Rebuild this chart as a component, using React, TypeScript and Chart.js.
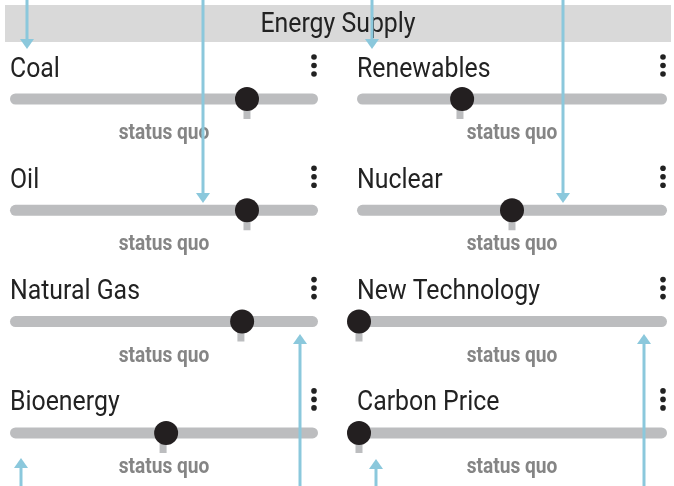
import React, { useEffect, useRef } from "react";
import { Chart, registerables } from "chart.js";

Chart.register(...registerables);

// ---- data ----
const headerTitle = "Energy Supply";
const sliderNames = ["Coal", "Oil", "Natural Gas", "Bioenergy", "Renewables", "Nuclear", "New Technology", "Carbon Price"];
const sliderColumns = [0, 0, 0, 0, 1, 1, 1, 1];
const sliderRows = [0, 1, 2, 3, 0, 1, 2, 3];
const sliderValues = [0.773, 0.773, 0.757, 0.507, 0.337, 0.5, 0, 0];
const statusQuoValues = [0.773, 0.773, 0.753, 0.497, 0.33, 0.5, 0, 0];
const statusQuoLabel = "status quo";
// annotation arrows (in page units): x, tail y, tip y
const arrowX = [27, 203, 372, 563, 21, 300, 376, 644];
const arrowTailY = [0, 0, 0, 0, 486, 486, 486, 486];
const arrowTipY = [49, 203, 49, 203, 458, 334, 459, 334];

// ---- layout ----
const W = 674;
const H = 486;
const COL_X0 = [10, 357];
const COL_X1 = [318, 667];
const ROW_Y0 = 99;
const ROW_STEP = 111.3;
const TRACK_W = 11;
const KNOB_R = 12;
const ARROW_HEAD_W = 14;
const ARROW_HEAD_H = 10;

const TRACK_COLOR = "#bcbdbf";
const KNOB_COLOR = "#231f20";
const TEXT_COLOR = "#222222";
const SQ_COLOR = "#858585";
const HEADER_BG = "#d9d9d9";
const ARROW_COLOR = "#8bc8dc";

const rowY = (r: number) => ROW_Y0 + r * ROW_STEP;
const valueX = (c: number, v: number) => COL_X0[c] + 2 + v * (COL_X1[c] - COL_X0[c] - 4);

function condensedText(ctx: CanvasRenderingContext2D, text: string, x: number, y: number, squeeze: number) {
  ctx.save();
  ctx.translate(x, y);
  ctx.scale(squeeze, 1);
  ctx.fillText(text, 0, 0);
  ctx.restore();
}

export default function App() {
  const ref = useRef<HTMLCanvasElement | null>(null);

  useEffect(() => {
    const prev = document.body.style.margin;
    document.body.style.margin = "0";
    if (!ref.current) return;

    const datasets: any[] = [];

    // tracks
    sliderNames.forEach((_, i) => {
      const c = sliderColumns[i];
      const y = rowY(sliderRows[i]);
      datasets.push({
        type: "line",
        data: [
          { x: COL_X0[c] + TRACK_W / 2, y },
          { x: COL_X1[c] - TRACK_W / 2, y },
        ],
        borderColor: TRACK_COLOR,
        borderWidth: TRACK_W,
        borderCapStyle: "round",
        pointRadius: 0,
        order: 4,
        clip: false,
      });
    });

    // status quo ticks
    sliderNames.forEach((_, i) => {
      const c = sliderColumns[i];
      const y = rowY(sliderRows[i]);
      const x = valueX(c, statusQuoValues[i]);
      datasets.push({
        type: "line",
        data: [
          { x, y },
          { x, y: y + 20 },
        ],
        borderColor: TRACK_COLOR,
        borderWidth: 7,
        borderCapStyle: "butt",
        pointRadius: 0,
        order: 3,
        clip: false,
      });
    });

    // knobs
    datasets.push({
      type: "scatter",
      data: sliderNames.map((_, i) => ({ x: valueX(sliderColumns[i], sliderValues[i]), y: rowY(sliderRows[i]) })),
      backgroundColor: KNOB_COLOR,
      borderWidth: 0,
      pointRadius: KNOB_R,
      pointHoverRadius: KNOB_R,
      order: 2,
      clip: false,
    });

    // arrow shafts
    arrowX.forEach((x, i) => {
      const dir = arrowTipY[i] > arrowTailY[i] ? 1 : -1;
      datasets.push({
        type: "line",
        data: [
          { x, y: arrowTailY[i] },
          { x, y: arrowTipY[i] - dir * (ARROW_HEAD_H - 1) },
        ],
        borderColor: ARROW_COLOR,
        borderWidth: 3,
        borderCapStyle: "butt",
        pointRadius: 0,
        order: 1,
        clip: false,
      });
    });

    const textPlugin = {
      id: "sliderText",
      beforeDatasetsDraw(chart: any) {
        const ctx = chart.ctx as CanvasRenderingContext2D;
        const sx = chart.scales.x;
        const sy = chart.scales.y;
        ctx.save();
        // header
        ctx.fillStyle = HEADER_BG;
        ctx.fillRect(sx.getPixelForValue(5), sy.getPixelForValue(5), sx.getPixelForValue(671) - sx.getPixelForValue(5), sy.getPixelForValue(42) - sy.getPixelForValue(5));
        ctx.fillStyle = TEXT_COLOR;
        ctx.font = "27px Roboto";
        ctx.textAlign = "center";
        ctx.textBaseline = "alphabetic";
        condensedText(ctx, headerTitle, sx.getPixelForValue(338), sy.getPixelForValue(32), 0.92);

        sliderNames.forEach((name, i) => {
          const c = sliderColumns[i];
          const y = rowY(sliderRows[i]);
          // title
          ctx.fillStyle = TEXT_COLOR;
          ctx.font = "27px Roboto";
          ctx.textAlign = "left";
          condensedText(ctx, name, sx.getPixelForValue(COL_X0[c]), sy.getPixelForValue(y - 22.5), 0.92);
          // kebab
          const kx = sx.getPixelForValue(COL_X1[c] - 4);
          [-42, -33.5, -25].forEach((dy) => {
            ctx.beginPath();
            ctx.arc(kx, sy.getPixelForValue(y + dy), 2.8, 0, Math.PI * 2);
            ctx.fill();
          });
          // status quo label
          ctx.fillStyle = SQ_COLOR;
          ctx.font = "bold 22px Roboto";
          ctx.textAlign = "center";
          condensedText(ctx, statusQuoLabel, sx.getPixelForValue((COL_X0[c] + COL_X1[c]) / 2), sy.getPixelForValue(y + 40), 0.87);
        });
        ctx.restore();
      },
      afterDatasetsDraw(chart: any) {
        const ctx = chart.ctx;
        const sx = chart.scales.x;
        const sy = chart.scales.y;
        ctx.save();
        ctx.fillStyle = ARROW_COLOR;
        arrowX.forEach((x, i) => {
          const dir = arrowTipY[i] > arrowTailY[i] ? 1 : -1;
          const px = sx.getPixelForValue(x);
          const tip = sy.getPixelForValue(arrowTipY[i]);
          ctx.beginPath();
          ctx.moveTo(px, tip);
          ctx.lineTo(px - ARROW_HEAD_W / 2, tip - dir * ARROW_HEAD_H);
          ctx.lineTo(px + ARROW_HEAD_W / 2, tip - dir * ARROW_HEAD_H);
          ctx.closePath();
          ctx.fill();
        });
        ctx.restore();
      },
    };

    const chart = new Chart(ref.current, {
      type: "scatter",
      data: { datasets },
      options: {
        animation: false,
        responsive: false,
        events: [],
        layout: { padding: 0, autoPadding: false },
        plugins: { legend: { display: false }, tooltip: { enabled: false } },
        scales: {
          x: { type: "linear", min: 0, max: W, display: false },
          y: { type: "linear", min: 0, max: H, reverse: true, display: false },
        },
      },
      plugins: [textPlugin],
    } as any);

    return () => {
      chart.destroy();
      document.body.style.margin = prev;
    };
  }, []);

  return (
    <div style={{ position: "absolute", left: 0, top: 0, width: W, height: H, background: "#ffffff" }}>
      <canvas ref={ref} width={W} height={H} style={{ width: W, height: H, display: "block" }} />
    </div>
  );
}
